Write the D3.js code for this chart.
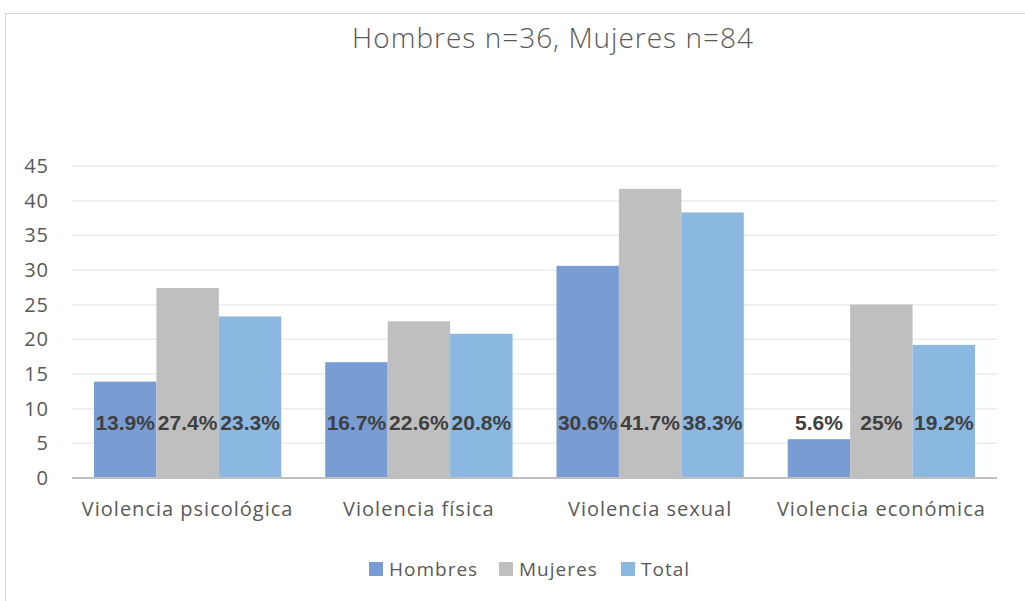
<!DOCTYPE html>
<html>
<head>
<meta charset="utf-8">
<script src="https://cdn.jsdelivr.net/npm/d3@7"></script>
<style>
  body { margin: 0; background: #fff; }
  svg { display: block; }
  .tick text { font-family: "Open Sans", sans-serif; fill: #595959; }
</style>
</head>
<body>
<svg id="chart" width="1025" height="601"></svg>
<script>
const categories = ['Violencia psicológica', 'Violencia física', 'Violencia sexual', 'Violencia económica'];
const seriesNames = ['Hombres', 'Mujeres', 'Total'];
const hombres = [13.9, 16.7, 30.6, 5.6];
const mujeres = [27.4, 22.6, 41.7, 25];
const total = [23.3, 20.8, 38.3, 19.2];
const labelText = [
  ['13.9%', '16.7%', '30.6%', '5.6%'],
  ['27.4%', '22.6%', '41.7%', '25%'],
  ['23.3%', '20.8%', '38.3%', '19.2%'],
];
const yTicks = [0, 5, 10, 15, 20, 25, 30, 35, 40, 45];
const colors = ['#7a9cd5', '#bfbfbf', '#8ab8e1'];

const seriesValues = [hombres, mujeres, total];

const svg = d3.select('#chart');

// Chart border
svg.append('rect')
  .attr('x', 5.5).attr('y', 13.5)
  .attr('width', 1040).attr('height', 600)
  .attr('fill', 'none')
  .attr('stroke', '#d9d9d9')
  .attr('stroke-width', 1);

const margin = {left: 72, right: 28, top: 166, bottom: 123};
const width = 1025 - margin.left - margin.right;
const height = 601 - margin.top - margin.bottom;

const x0 = d3.scaleBand()
  .domain(categories)
  .range([margin.left, margin.left + width])
  .paddingInner(0.19)
  .paddingOuter(0.095);

const x1 = d3.scaleBand()
  .domain(seriesNames)
  .range([0, x0.bandwidth()]);

const y = d3.scaleLinear()
  .domain([0, 45])
  .range([margin.top + height, margin.top]);

// Gridlines
svg.append('g')
  .selectAll('line')
  .data(yTicks.filter((d) => d > 0))
  .join('line')
  .attr('x1', margin.left).attr('x2', margin.left + width)
  .attr('y1', (d) => y(d)).attr('y2', (d) => y(d))
  .attr('stroke', '#ebebeb')
  .attr('stroke-width', 1.5);

// Y axis labels
const yAxis = svg.append('g')
  .attr('transform', `translate(${margin.left}, 0)`)
  .call(d3.axisLeft(y).tickValues(yTicks).tickSize(0).tickPadding(23));
yAxis.select('.domain').remove();
yAxis.selectAll('text').attr('font-size', 20).attr('letter-spacing', 1);

// Bars
const groups = svg.append('g')
  .selectAll('g')
  .data(categories)
  .join('g')
  .attr('transform', (d) => `translate(${x0(d)}, 0)`);

groups.selectAll('rect')
  .data((d, i) => seriesNames.map((s, j) => ({s, v: seriesValues[j][i], j})))
  .join('rect')
  .attr('x', (d) => x1(d.s))
  .attr('y', (d) => y(d.v))
  .attr('width', x1.bandwidth())
  .attr('height', (d) => y(0) - y(d.v))
  .attr('fill', (d) => colors[d.j]);

// Data labels
groups.selectAll('text')
  .data((d, i) => seriesNames.map((s, j) => ({s, t: labelText[j][i]})))
  .join('text')
  .attr('x', (d) => x1(d.s) + x1.bandwidth() / 2)
  .attr('y', y(0) - 48)
  .attr('text-anchor', 'middle')
  .attr('font-family', 'Liberation Sans, Arial, sans-serif')
  .attr('font-weight', 'bold')
  .attr('font-size', 21)
  .attr('fill', '#404040')
  .text((d) => d.t);

// X axis line
svg.append('line')
  .attr('x1', margin.left).attr('x2', margin.left + width)
  .attr('y1', y(0)).attr('y2', y(0))
  .attr('stroke', '#bfbfbf')
  .attr('stroke-width', 2);

// X axis labels
const xAxis = svg.append('g')
  .attr('transform', `translate(0, ${y(0)})`)
  .call(d3.axisBottom(x0).tickSize(0).tickPadding(24));
xAxis.select('.domain').remove();
xAxis.selectAll('text').attr('font-size', 20).attr('letter-spacing', 1);

// Title
svg.append('text')
  .attr('x', 553).attr('y', 48)
  .attr('text-anchor', 'middle')
  .attr('font-family', 'Open Sans, sans-serif')
  .attr('font-weight', 300)
  .attr('font-size', 28)
  .attr('letter-spacing', 1)
  .attr('fill', '#595959')
  .text('Hombres n=36, Mujeres n=84');

// Legend
const legendX = [369, 499, 621];
const legend = svg.append('g')
  .selectAll('g')
  .data(seriesNames)
  .join('g')
  .attr('transform', (d, i) => `translate(${legendX[i]}, 562)`);
legend.append('rect')
  .attr('width', 14).attr('height', 14)
  .attr('fill', (d, i) => colors[i]);
legend.append('text')
  .attr('x', 20).attr('y', 14)
  .attr('font-family', 'Open Sans, sans-serif')
  .attr('font-size', 19)
  .attr('letter-spacing', 1)
  .attr('fill', '#595959')
  .text((d) => d);
</script>
</body>
</html>
